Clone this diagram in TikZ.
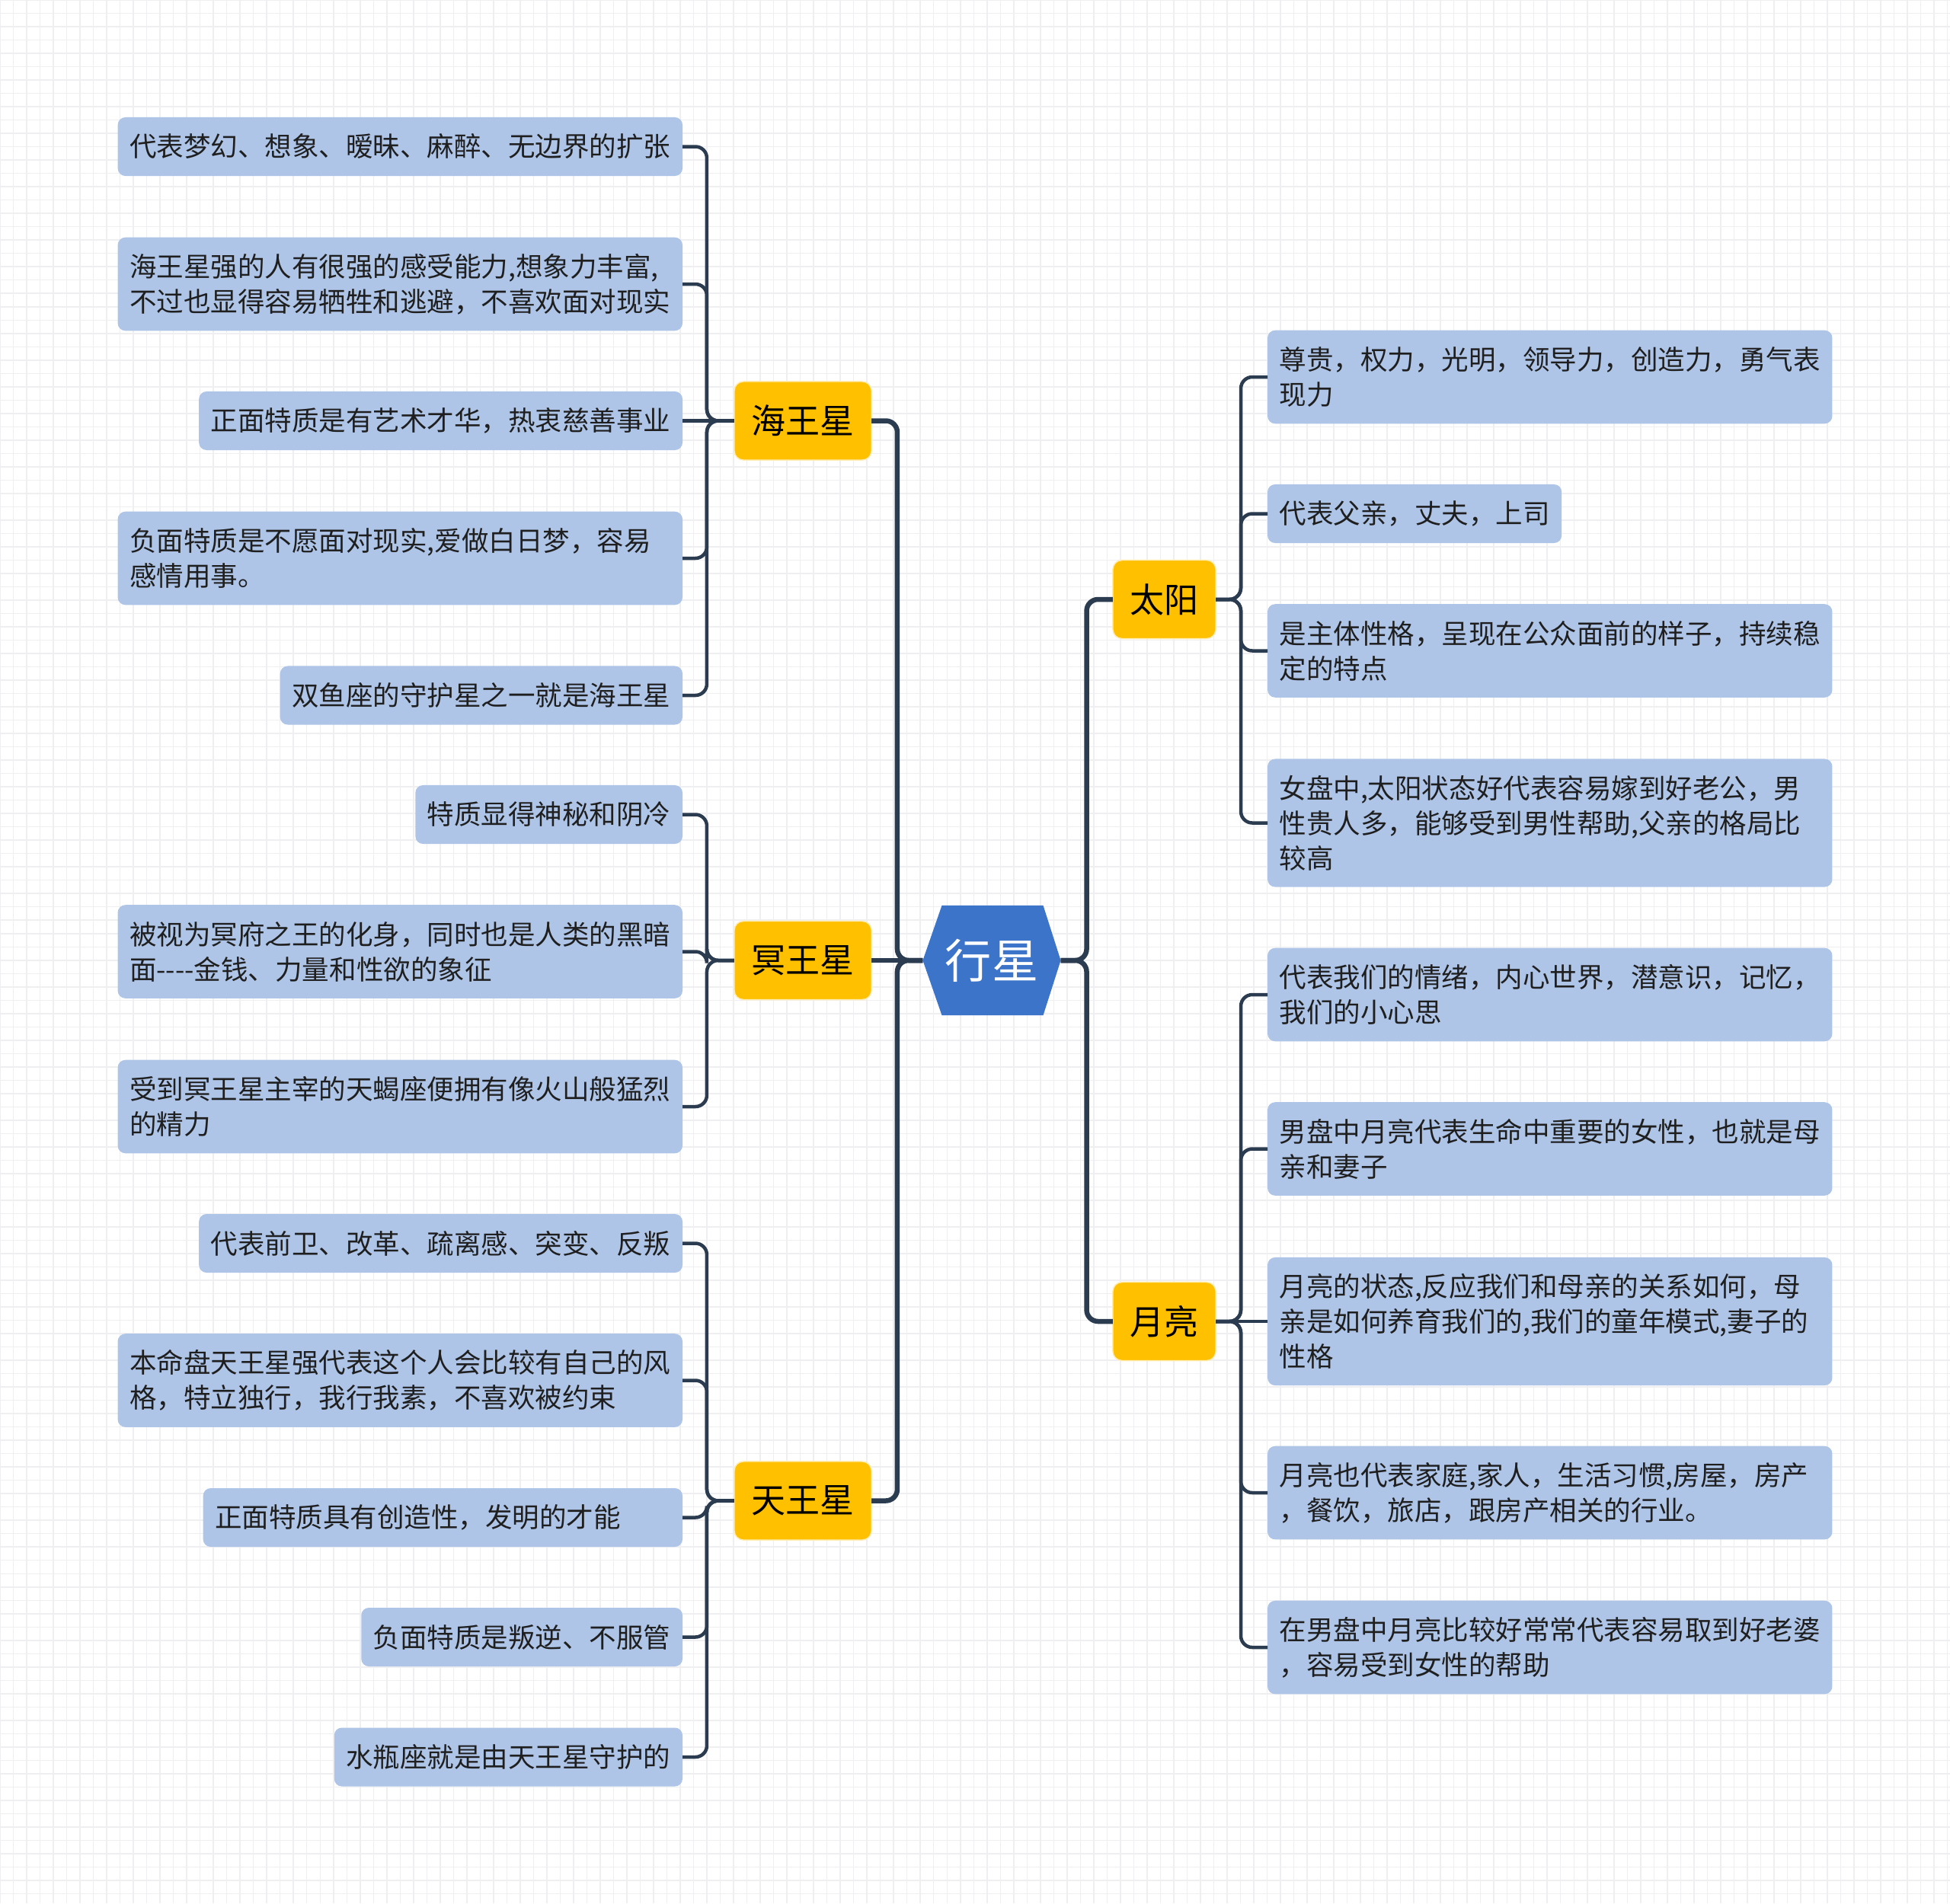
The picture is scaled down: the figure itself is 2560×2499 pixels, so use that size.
\documentclass[tikz,border=0pt]{standalone}
\usepackage{fontspec}
\newfontfamily\cjk{Noto Sans CJK SC}

\definecolor{twigcol}{HTML}{2C3C50}
\definecolor{leafblue}{HTML}{AEC5E8}
\definecolor{planetyellow}{HTML}{FFC000}
\definecolor{hubblue}{HTML}{3B74C9}
\definecolor{gridgray}{HTML}{EFEFF1}

\tikzset{
	leaf/.style={fill=leafblue, rounded corners=0.1cm, inner xsep=0.155cm, inner ysep=0.05cm,
		minimum height=0.77cm, outer sep=0pt, text=black!88, font=\cjk\fontsize{10.1pt}{13.1pt}\selectfont},
	twoline/.style={leaf, text width=7.1cm, align=left, minimum height=1.225cm},
	threeline/.style={leaf, text width=7.1cm, align=left, minimum height=1.68cm},
	planet/.style={fill=planetyellow, draw=planetyellow!30!white, line width=0.015cm, rounded corners=0.12cm,
		inner xsep=0.225cm, inner ysep=0.05cm, minimum height=1.03cm, outer sep=0pt,
		font=\cjk\fontsize{12.8pt}{15pt}\selectfont},
	hub/.style={minimum width=1.81cm, minimum height=1.44cm, inner sep=0pt, outer sep=0pt, text=white,
		font=\cjk\fontsize{17.4pt}{20pt}\selectfont,
		path picture={\fill[hubblue] (path picture bounding box.west)
			-- ([xshift=0.25cm]path picture bounding box.north west)
			-- ([xshift=-0.23cm]path picture bounding box.north east)
			-- (path picture bounding box.east)
			-- ([xshift=-0.23cm]path picture bounding box.south east)
			-- ([xshift=0.25cm]path picture bounding box.south west) -- cycle;}},
	trunk/.style={draw=twigcol, line width=0.065cm, rounded corners=0.15cm},
	twig/.style={draw=twigcol, line width=0.045cm, rounded corners=0.15cm}
}

\begin{document}
\begin{tikzpicture}[x=0.01cm, y=-0.01cm]
	\useasboundingbox (0,0) rectangle (2560,2499);
	\fill[white] (0,0) rectangle (2560,2499);
	\draw[draw=gridgray, line width=0.015cm, step=0.175cm] (0,2499) grid (2560,0);

	\node[hub] (hub) at (1302,1261) {行星};

	\node[planet] (nep) at (1054,552.5) {海王星};
	\node[planet] (plu) at (1054,1261) {冥王星};
	\node[planet] (ura) at (1054,1970.5) {天王星};
	\node[planet] (sun) at (1528.5,787) {太阳};
	\node[planet] (moon) at (1528.5,1735) {月亮};

	% 海王星
	\node[leaf, anchor=east] (n1) at (896,192.5) {代表梦幻、想象、暧昧、麻醉、无边界的扩张};
	\node[twoline, anchor=east] (n2) at (896,373) {海王星强的人有很强的感受能力,想象力丰富,\\不过也显得容易牺牲和逃避，不喜欢面对现实};
	\node[leaf, anchor=east] (n3) at (896,552.5) {正面特质是有艺术才华，热衷慈善事业};
	\node[twoline, anchor=east] (n4) at (896,733) {负面特质是不愿面对现实,爱做白日梦，容易\\感情用事。};
	\node[leaf, anchor=east] (n5) at (896,913) {双鱼座的守护星之一就是海王星};

	% 冥王星
	\node[leaf, anchor=east] (p1) at (896,1069.5) {特质显得神秘和阴冷};
	\node[twoline, anchor=east] (p2) at (896,1249.5) {被视为冥府之王的化身，同时也是人类的黑暗\\面----金钱、力量和性欲的象征};
	\node[twoline, anchor=east] (p3) at (896,1453) {受到冥王星主宰的天蝎座便拥有像火山般猛烈\\的精力};

	% 天王星
	\node[leaf, anchor=east] (u1) at (896,1632.5) {代表前卫、改革、疏离感、突变、反叛};
	\node[twoline, anchor=east] (u2) at (896,1812.5) {本命盘天王星强代表这个人会比较有自己的风\\格，特立独行，我行我素，不喜欢被约束};
	\node[leaf, anchor=east, text width=5.98cm, align=left] (u3) at (896,1992.5) {正面特质具有创造性，发明的才能};
	\node[leaf, anchor=east] (u4) at (896,2149.5) {负面特质是叛逆、不服管};
	\node[leaf, anchor=east] (u5) at (896,2307) {水瓶座就是由天王星守护的};

	% 太阳
	\node[twoline, anchor=west] (s1) at (1664,495) {尊贵，权力，光明，领导力，创造力，勇气表\\现力};
	\node[leaf, anchor=west] (s2) at (1664,674.5) {代表父亲，丈夫，上司};
	\node[twoline, anchor=west] (s3) at (1664,854.5) {是主体性格，呈现在公众面前的样子，持续稳\\定的特点};
	\node[threeline, anchor=west] (s4) at (1664,1080.5) {女盘中,太阳状态好代表容易嫁到好老公，男\\性贵人多，能够受到男性帮助,父亲的格局比\\较高};

	% 月亮
	\node[twoline, anchor=west] (m1) at (1664,1306) {代表我们的情绪，内心世界，潜意识，记忆，\\我们的小心思};
	\node[twoline, anchor=west] (m2) at (1664,1508.5) {男盘中月亮代表生命中重要的女性，也就是母\\亲和妻子};
	\node[threeline, anchor=west] (m3) at (1664,1735) {月亮的状态,反应我们和母亲的关系如何，母\\亲是如何养育我们的,我们的童年模式,妻子的\\性格};
	\node[twoline, anchor=west] (m4) at (1664,1960) {月亮也代表家庭,家人，生活习惯,房屋，房产\\，餐饮，旅店，跟房产相关的行业。};
	\node[twoline, anchor=west] (m5) at (1664,2163) {在男盘中月亮比较好常常代表容易取到好老婆\\，容易受到女性的帮助};

	% branches
	\foreach \k in {nep,ura}
		\draw[trunk] (hub.west) -- ++(-33.5,0) |- (\k.east);
	\draw[trunk] (hub) -- (plu);
	\foreach \k in {sun,moon}
		\draw[trunk] (hub.east) -- ++(34,0) |- (\k.west);

	\foreach \k in {n1,n2,n4,n5}
		\draw[twig] (nep.west) -- ++(-36,0) |- (\k.east);
	\draw[twig] (nep) -- (n3);
	\foreach \k in {p1,p2,p3}
		\draw[twig] (plu.west) -- ++(-36,0) |- (\k.east);
	\foreach \k in {u1,u2,u3,u4,u5}
		\draw[twig] (ura.west) -- ++(-36,0) |- (\k.east);
	\foreach \k in {s1,s2,s3,s4}
		\draw[twig] (sun.east) -- ++(33,0) |- (\k.west);
	\foreach \k in {m1,m2,m4,m5}
		\draw[twig] (moon.east) -- ++(33,0) |- (\k.west);
	\draw[twig] (moon) -- (m3);
\end{tikzpicture}
\end{document}
